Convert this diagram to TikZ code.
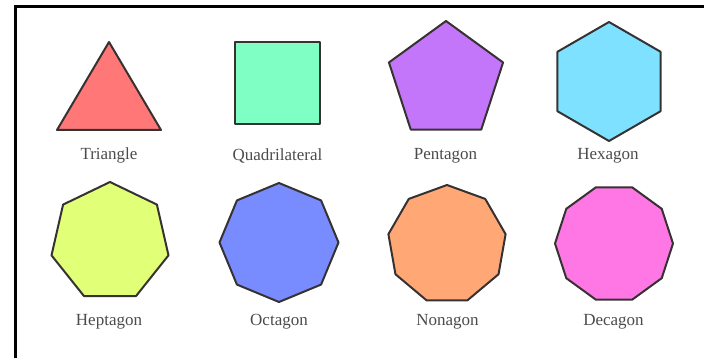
\documentclass[tikz,border=0pt]{standalone}
\usepackage{fontspec}
\setmainfont{Liberation Serif}
\definecolor{triC}{RGB}{255,119,119}
\definecolor{quadC}{RGB}{128,255,196}
\definecolor{pentC}{RGB}{196,118,250}
\definecolor{hexC}{RGB}{125,225,255}
\definecolor{heptC}{RGB}{226,255,120}
\definecolor{octC}{RGB}{120,140,255}
\definecolor{nonC}{RGB}{255,168,117}
\definecolor{decC}{RGB}{255,119,228}
\definecolor{edgeC}{RGB}{55,50,50}
\definecolor{labelC}{RGB}{75,75,75}
\tikzset{
  shapeline/.style={draw=edgeC, line width=2pt, line join=round},
  lbl/.style={text=labelC, font=\fontsize{17}{20}\selectfont, inner sep=0pt},
  frameline/.style={draw=black, line width=3pt}
}
\newcommand{\regpoly}[6]{% cx, cy, n, R, start, color
  \coordinate (c) at (#1,#2);
  \fill[#6] ($(c)+(#5:#4)$) \foreach \k in {1,...,#3}{ -- ($(c)+(#5+360*\k/#3:#4)$) } -- cycle;
  \draw[shapeline] ($(c)+(#5:#4)$) \foreach \k in {1,...,#3}{ -- ($(c)+(#5+360*\k/#3:#4)$) } -- cycle;
}
\usetikzlibrary{calc}
\begin{document}
\begin{tikzpicture}[x=1pt,y=-1pt]
\useasboundingbox (0,0) rectangle (704,358);
% frame
\coordinate (fl) at (15,358);
\coordinate (fc) at (15,7);
\coordinate (fr) at (704,7);
\draw[frameline] (fl) -- (fc) -- (fr);
% triangle
\coordinate (t1) at (109,42);
\coordinate (t2) at (161,130);
\coordinate (t3) at (57,130);
\filldraw[shapeline, fill=triC] (t1) -- (t2) -- (t3) -- cycle;
% square
\coordinate (q1) at (235,42);
\coordinate (q2) at (320,124);
\filldraw[shapeline, fill=quadC] (q1) rectangle (q2);
% polygons
\regpoly{446}{81}{5}{60}{-90}{pentC}
\regpoly{609}{81.5}{6}{59.5}{-90}{hexC}
\regpoly{110}{242}{7}{60}{-90}{heptC}
\regpoly{279}{242.5}{8}{59.5}{-90}{octC}
\regpoly{447}{244.5}{9}{59.5}{-90}{nonC}
\regpoly{614}{243.5}{10}{59}{0}{decC}
% labels
\node[lbl] (l1) at (109,155.5) {Triangle};
\node[lbl] (l2) at (277.5,155.5) {Quadrilateral};
\node[lbl] (l3) at (445.5,155.5) {Pentagon};
\node[lbl] (l4) at (608,155.5) {Hexagon};
\node[lbl] (l5) at (109,322) {Heptagon};
\node[lbl] (l6) at (279,322) {Octagon};
\node[lbl] (l7) at (447.5,322) {Nonagon};
\node[lbl] (l8) at (613.5,322) {Decagon};
\end{tikzpicture}
\end{document}
